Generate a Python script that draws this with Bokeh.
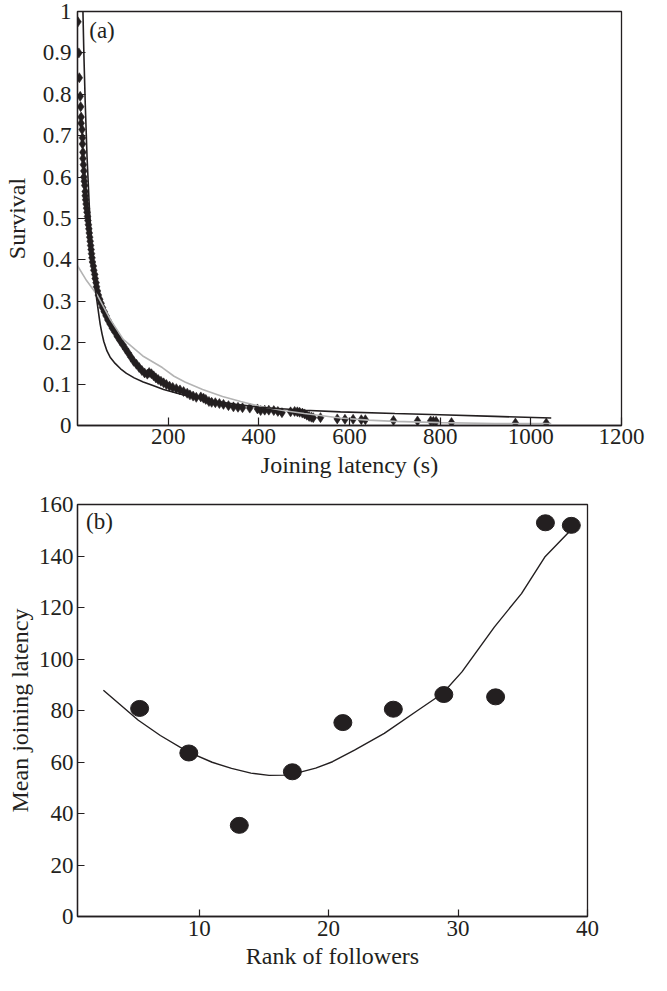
from bokeh.plotting import figure
from bokeh.layouts import column
from bokeh.models import FixedTicker, CustomJSTickFormatter, Label, Range1d
from bokeh.embed import file_html
from bokeh.resources import INLINE

# ---------- panel (a) data ----------
surv_x = [1, 3, 4, 6, 7, 8, 8, 10, 11, 11, 12, 12, 13, 14, 14, 15, 16, 17, 17, 18,
          19, 20, 21, 22, 23, 24, 25, 26, 27, 28, 29, 30, 31, 32, 33, 35, 36, 38, 39, 41,
          42, 44, 46, 49, 52, 55, 59, 63, 67, 72, 77, 83, 88, 94, 100, 106, 112, 118, 124, 130,
          136, 142, 148, 154, 158, 163, 168, 173, 178, 184, 190, 196, 203, 210, 218, 226, 234, 242, 248, 255,
          262, 272, 278, 283, 290, 296, 304, 313, 322, 333, 344, 354, 364, 380, 397, 404, 413, 422, 433, 442,
          451, 470, 479, 485, 490, 496, 501, 506, 511, 516, 520, 536, 573, 590, 608, 626, 635, 697, 750, 779,
          785, 791, 825, 966, 1034]
surv_y = [0.975, 0.90, 0.84, 0.795, 0.77, 0.745, 0.73, 0.715, 0.695, 0.68, 0.66, 0.645, 0.63, 0.615, 0.60, 0.59, 0.58, 0.565, 0.555, 0.545,
          0.535, 0.525, 0.515, 0.505, 0.495, 0.485, 0.475, 0.465, 0.455, 0.445, 0.435, 0.425, 0.415, 0.405, 0.395, 0.385, 0.375, 0.365, 0.355, 0.345,
          0.335, 0.325, 0.315, 0.305, 0.295, 0.285, 0.275, 0.265, 0.255, 0.245, 0.235, 0.225, 0.215, 0.205, 0.195, 0.185, 0.175, 0.165, 0.155, 0.148,
          0.140, 0.133, 0.127, 0.124, 0.128, 0.125, 0.120, 0.115, 0.111, 0.107, 0.103, 0.099, 0.095, 0.092, 0.089, 0.086, 0.082, 0.078, 0.074, 0.071,
          0.068, 0.069, 0.066, 0.063, 0.058, 0.056, 0.055, 0.053, 0.051, 0.048, 0.045, 0.044, 0.043, 0.042, 0.040, 0.036, 0.037, 0.037, 0.036, 0.034,
          0.031, 0.033, 0.034, 0.033, 0.032, 0.030, 0.028, 0.025, 0.022, 0.020, 0.019, 0.019, 0.016, 0.015, 0.015, 0.014, 0.014, 0.012, 0.011, 0.011,
          0.010, 0.010, 0.007, 0.006, 0.006]

fit1_x = [12, 14, 17, 21, 26, 32, 38, 43, 47, 50, 54, 58, 65, 72, 83, 95, 108, 125, 145, 165, 190, 230, 260, 300, 350, 400,
          500, 580, 700, 800, 920, 1045]
fit1_y = [1.0, 0.90, 0.78, 0.65, 0.53, 0.42, 0.34, 0.30, 0.268, 0.245, 0.222, 0.203, 0.180, 0.165, 0.150, 0.137, 0.126, 0.115, 0.105,
          0.097, 0.087, 0.075, 0.067, 0.059, 0.051, 0.044, 0.037, 0.033, 0.029, 0.026, 0.022, 0.018]

fit2_x = [0, 20, 43, 73, 101, 144, 187, 213, 237, 276, 320, 360, 400, 450, 500, 580, 640, 700, 800, 920, 1045]
fit2_y = [0.386, 0.35, 0.316, 0.255, 0.208, 0.168, 0.140, 0.119, 0.105, 0.087, 0.070, 0.058, 0.047, 0.037, 0.029, 0.018, 0.013,
          0.010, 0.007, 0.005, 0.005]

a_xticks = [200, 400, 600, 800, 1000, 1200]
a_yticks = [0, 0.1, 0.2, 0.3, 0.4, 0.5, 0.6, 0.7, 0.8, 0.9, 1.0]

# ---------- panel (b) data ----------
rank = [5.4, 9.2, 13.1, 17.2, 21.1, 25.0, 28.9, 32.9, 36.75, 38.75]
latency = [80.8, 63.5, 35.4, 56.2, 75.3, 80.5, 86.2, 85.3, 152.9, 151.9]
curve_x = [2.6, 5.3, 7.0, 9.1, 11.0, 12.5, 14.0, 15.4, 16.6, 17.6, 19.0, 20.3, 22.0, 24.3, 26.9, 28.8, 30.3, 32.8,
           34.9, 36.7, 38.7]
curve_y = [87.9, 76.2, 70.3, 64.0, 59.9, 57.5, 55.7, 54.8, 54.9, 55.8, 57.6, 60.1, 64.6, 71.1, 80.1, 86.6, 95.0,
           112.4, 125.4, 139.6, 150.0]
b_xticks = [10, 20, 30, 40]
b_yticks = [0, 20, 40, 60, 80, 100, 120, 140, 160]

INK = "#231f20"
FONT = "Liberation Serif"
TICK_FS = "23px"
TITLE_FS = "24px"


def style(p, xticks, yticks, tick_len, xstand, xlab_stand, ystand, ylab_stand):
    p.grid.visible = False
    p.outline_line_color = INK
    p.outline_line_width = 1.3
    p.background_fill_color = "white"
    p.border_fill_color = "white"
    for ax in (p.xaxis[0], p.yaxis[0]):
        ax.axis_line_color = INK
        ax.axis_line_width = 1.3
        ax.major_tick_line_color = INK
        ax.major_tick_line_width = 1.2
        ax.major_tick_in = tick_len
        ax.major_tick_out = 0
        ax.minor_tick_line_color = None
        ax.major_label_text_font = FONT
        ax.major_label_text_font_size = TICK_FS
        ax.major_label_text_color = INK
        ax.axis_label_text_font = FONT
        ax.axis_label_text_font_size = TITLE_FS
        ax.axis_label_text_font_style = "normal"
        ax.axis_label_text_color = INK
    p.xaxis[0].ticker = FixedTicker(ticks=xticks)
    p.yaxis[0].ticker = FixedTicker(ticks=yticks)
    p.xaxis[0].major_label_standoff = xstand
    p.xaxis[0].axis_label_standoff = xlab_stand
    p.yaxis[0].major_label_standoff = ystand
    p.yaxis[0].axis_label_standoff = ylab_stand


# ---------- panel (a) ----------
p1 = figure(width=651, height=486, x_range=Range1d(0, 1200), y_range=Range1d(0, 1),
            output_backend="svg", toolbar_location=None,
            min_border_left=71, min_border_right=18, min_border_top=11, min_border_bottom=61,
            x_axis_label="Joining latency (s)", y_axis_label="Survival")
style(p1, a_xticks, a_yticks, 8, 3, 5, 6, 10)
p1.yaxis[0].formatter = CustomJSTickFormatter(code="return tick.toFixed(1).replace(/\\.0$/, '');")

p1.scatter(surv_x, surv_y, marker="diamond", size=10, fill_color=INK, line_color=INK, line_width=0.6)
p1.line(fit2_x, fit2_y, line_color="#b4b4b4", line_width=1.6)
p1.line(fit1_x, fit1_y, line_color=INK, line_width=1.6)
p1.add_layout(Label(x=54, y=0.955, text="(a)", text_font=FONT, text_font_size=TICK_FS,
                    text_color=INK, text_align="center", text_baseline="middle"))

# ---------- panel (b) ----------
p2 = figure(width=617, height=491, x_range=Range1d(0.6, 40), y_range=Range1d(0, 160),
            output_backend="svg", toolbar_location=None,
            min_border_left=73, min_border_right=30, min_border_top=18, min_border_bottom=61,
            x_axis_label="Rank of followers", y_axis_label="Mean joining latency")
style(p2, b_xticks, b_yticks, 7, 4, 4, 4, 3)

p2.line(curve_x, curve_y, line_color=INK, line_width=1.4)
p2.ellipse(rank, latency, width=18, height=16, width_units="screen", height_units="screen",
           fill_color=INK, line_color=INK)
p2.add_layout(Label(x=2.3, y=153.3, text="(b)", text_font=FONT, text_font_size=TICK_FS,
                    text_color=INK, text_align="center", text_baseline="middle"))

layout = column(p1, p2, spacing=0)
open("out.html", "w").write(file_html(layout, INLINE))
